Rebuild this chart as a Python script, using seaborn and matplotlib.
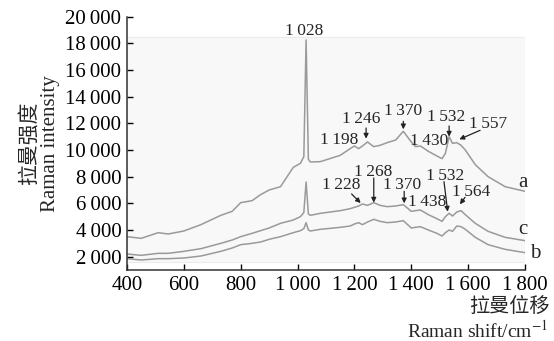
import matplotlib
matplotlib.use("Agg")
import matplotlib.pyplot as plt
import pandas as pd
import seaborn as sns
from matplotlib.patches import Rectangle

# Raman shift (cm-1)
wavenumber = [400, 450, 510, 545, 600, 660, 730, 770, 800, 840, 870, 900, 940, 985,
              1010, 1022, 1030, 1038, 1045, 1080, 1150, 1185, 1200, 1215, 1228, 1246,
              1268, 1290, 1315, 1345, 1372, 1400, 1415, 1432, 1460, 1490, 1508, 1520,
              1533, 1545, 1560, 1575, 1590, 1625, 1670, 1730, 1800]

curve_a = [3500, 3375, 3800, 3700, 3925, 4400, 5100, 5400, 6050, 6200, 6650, 7000, 7250, 8700,
           9000, 9500, 18250, 9300, 9100, 9125, 9600, 10100, 10300, 10100, 10300, 10600,
           10250, 10350, 10550, 10750, 11400, 10600, 10250, 10300, 9900, 9550, 9350, 9750,
           11000, 10500, 10550, 10350, 10000, 8900, 8000, 7250, 6900]

curve_c = [2200, 2100, 2250, 2250, 2400, 2600, 3000, 3250, 3500, 3750, 3950, 4150, 4500, 4750,
           5000, 5300, 7600, 5200, 5100, 5250, 5450, 5600, 5700, 5800, 5950, 5850,
           6050, 5850, 5750, 5800, 5900, 5400, 5450, 5500, 5150, 4850, 4650, 5000,
           5250, 5050, 5350, 5450, 5150, 4500, 3900, 3450, 3200]

curve_b = [1850, 1750, 1850, 1850, 1900, 2050, 2400, 2650, 2900, 3000, 3100, 3300, 3500, 3800,
           3950, 4100, 4550, 4000, 3925, 4050, 4200, 4300, 4450, 4550, 4400, 4600,
           4800, 4650, 4550, 4600, 4700, 4150, 4200, 4250, 4000, 3750, 3550, 3800,
           4000, 3900, 4300, 4250, 4050, 3450, 2900, 2550, 2300]

x_ticks = [400, 600, 800, 1000, 1200, 1400, 1600, 1800]
y_ticks = [2000, 4000, 6000, 8000, 10000, 12000, 14000, 16000, 18000, 20000]


def fmt(v):
    # thousands separated by a thin space, as in the figure
    return f"{v:,}".replace(",", "\u2009")


df = pd.concat([
    pd.DataFrame({"shift": wavenumber, "intensity": curve_a, "curve": "a"}),
    pd.DataFrame({"shift": wavenumber, "intensity": curve_c, "curve": "c"}),
    pd.DataFrame({"shift": wavenumber, "intensity": curve_b, "curve": "b"}),
])

sns.set_theme(style="ticks")
plt.rcParams["font.family"] = ["Liberation Serif", "Noto Sans CJK SC"]
plt.rcParams["mathtext.fontset"] = "stix"

fig = plt.figure(figsize=(5.54, 3.41), dpi=100)
ax = fig.add_axes([0.2292, 0.2082, 0.7185, 0.743])

# faint grey panel behind the spectra (as in the scanned original)
ax.add_patch(Rectangle((400, 1625), 1400, 16825, facecolor="#f8f8f8",
                       edgecolor="#ececec", linewidth=0.8, zorder=0))

sns.lineplot(data=df, x="shift", y="intensity", hue="curve", units="curve",
             estimator=None, palette=["#9a9a9a"] * 3, linewidth=1.1,
             legend=False, ax=ax, sort=False)

ax.set_xlim(400, 1800)
ax.set_ylim(1000, 20000)
ax.set_xticks(x_ticks)
ax.set_xticklabels([fmt(t) for t in x_ticks])
ax.set_yticks(y_ticks)
ax.set_yticklabels([fmt(t) for t in y_ticks])
ax.tick_params(direction="in", length=4, width=1, labelsize=15, colors="black", pad=4)
for s in ("top", "right"):
    ax.spines[s].set_visible(False)
for s in ("left", "bottom"):
    ax.spines[s].set_color("#333333")
    ax.spines[s].set_linewidth(1.1)
ax.set_xlabel("")
ax.set_ylabel("拉曼强度\nRaman intensity", fontsize=15, labelpad=4, linespacing=1.05)

fig.text(0.992, 0.098, "拉曼位移", ha="right", va="center", fontsize=14.5)
fig.text(0.99, 0.03, "Raman shift/cm$^{-1}$", ha="right", va="center", fontsize=14)

# peak labels: (text, text x, text y, arrow start, arrow tip)
arrow_kw = dict(arrowstyle="-|>", color="#222222", lw=0.9, mutation_scale=7,
                shrinkA=0, shrinkB=0)
peaks = [
    ("1 028", 1022, 18900, None, None),
    ("1 198", 1146, 10750, None, None),
    ("1 246", 1225, 12300, (1241, 11650), (1241, 10850)),
    ("1 370", 1372, 12900, (1372, 12150), (1372, 11550)),
    ("1 430", 1462, 10700, None, None),
    ("1 532", 1521, 12500, (1533, 11800), (1533, 11000)),
    ("1 557", 1671, 11950, (1642, 11475), (1569, 10800)),
    ("1 268", 1266, 8350, (1268, 7900), (1268, 6050)),
    ("1 228", 1153, 7375, (1190, 6700), (1222, 6020)),
    ("1 370", 1366, 7375, (1375, 6900), (1375, 6000)),
    ("1 438", 1455, 6075, None, None),
    ("1 532", 1518, 8050, (1515, 7625), (1528, 5375)),
    ("1 564", 1612, 6875, (1589, 6450), (1571, 5925)),
]
for label, lx, ly, start, tip in peaks:
    ax.text(lx, ly, label.replace(" ", "\u2009"), ha="center", va="center",
            fontsize=12.5, zorder=5)
    if start is not None:
        ax.annotate("", xy=tip, xytext=start, arrowprops=arrow_kw)

for name, lx, ly in [("a", 1793, 7575), ("c", 1794, 4000), ("b", 1835, 2250)]:
    ax.text(lx, ly, name, ha="center", va="center", fontsize=15, clip_on=False)

fig.savefig("out.png", dpi=100)
